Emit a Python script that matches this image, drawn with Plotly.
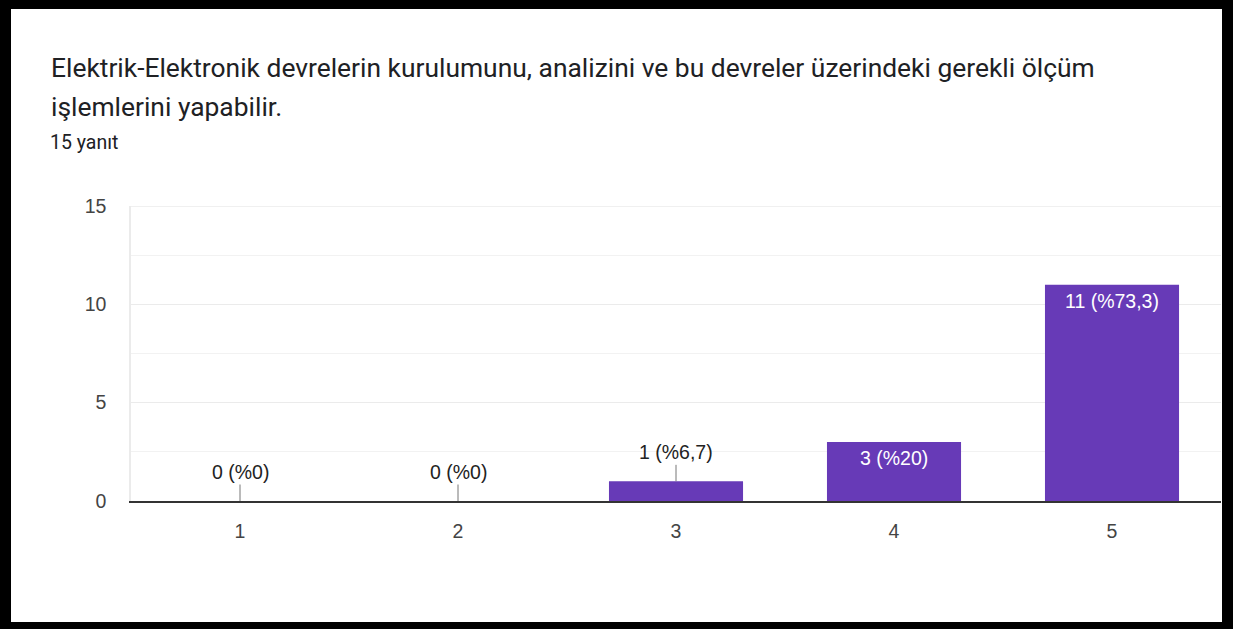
import plotly.graph_objects as go

categories = ["1", "2", "3", "4", "5"]
counts = [0, 0, 1, 3, 11]
labels = ["0 (%0)", "0 (%0)", "1 (%6,7)", "3 (%20)", "11 (%73,3)"]
y_ticks = [0, 5, 10, 15]
title_lines = ["Elektrik-Elektronik devrelerin kurulumunu, analizini ve bu devreler üzerindeki gerekli ölçüm",
               "işlemlerini yapabilir."]
subtitle = "15 yanıt"

W, H = 1233, 629
L, R, T, B = 131, 12, 206, 128
PW, PH = W - L - R, H - T - B

def px_x(p):
    return (p - L) / PW

def px_y(p):
    return (H - B - p) / PH

xpos = [1, 2, 3, 4, 5]
CHART_FONT = "Liberation Sans, Arial"
FS = 19.5

fig = go.Figure()
fig.add_trace(go.Bar(x=xpos, y=counts, width=0.615, marker=dict(color="#673ab7", line=dict(width=0)),
                     hoverinfo="skip"))

annotations = []
for x, c, lab in zip(xpos, counts, labels):
    if c < 2:
        annotations.append(dict(x=x, y=c, xref="x", yref="y", text=lab, showarrow=True,
                                arrowhead=0, arrowwidth=1, arrowcolor="#777", ax=0, ay=-29,
                                font=dict(family=CHART_FONT, size=FS, color="#222")))
    else:
        annotations.append(dict(x=x, y=c, xref="x", yref="y", text=lab, showarrow=False,
                                yanchor="top", yshift=-3,
                                font=dict(family=CHART_FONT, size=FS, color="#ffffff")))

annotations.append(dict(x=px_x(49), y=px_y(68), xref="paper", yref="paper", xanchor="left", yanchor="middle",
                        text=title_lines[0], showarrow=False,
                        font=dict(family="Roboto", size=26.4, color="#202124")))
annotations.append(dict(x=px_x(49), y=px_y(107), xref="paper", yref="paper", xanchor="left", yanchor="middle",
                        text=title_lines[1], showarrow=False,
                        font=dict(family="Roboto", size=26.4, color="#202124")))
annotations.append(dict(x=px_x(48), y=px_y(142), xref="paper", yref="paper", xanchor="left", yanchor="middle",
                        text=subtitle, showarrow=False,
                        font=dict(family="Roboto", size=19.5, color="#202124")))

shapes = []
# top gridline at the axis maximum
shapes.append(dict(type="line", xref="paper", yref="y", x0=0, x1=1, y0=y_ticks[-1], y1=y_ticks[-1],
                   line=dict(color="#ebebeb", width=1.5), layer="below"))

def rect(x0, y0, x1, y1, color="black"):
    shapes.append(dict(type="rect", xref="paper", yref="paper", x0=px_x(x0), x1=px_x(x1),
                       y0=px_y(y1), y1=px_y(y0), fillcolor=color, line=dict(width=0), layer="above"))

rect(0, 0, 11, H)
rect(0, 0, W, 9)
rect(1222, 0, W, H)
rect(0, 622, W, H)

fig.update_layout(
    width=W, height=H,
    margin=dict(l=L, r=R, t=T, b=B, pad=0),
    paper_bgcolor="white", plot_bgcolor="white",
    showlegend=False,
    annotations=annotations,
    shapes=shapes,
    xaxis=dict(range=[0.5, 5.5], tickvals=xpos, ticktext=categories, showgrid=False,
               zeroline=False, showline=True, linecolor="#333", linewidth=1.5, ticks="",
               ticklabelstandoff=12,
               tickfont=dict(family=CHART_FONT, size=FS, color="#444"), fixedrange=True),
    yaxis=dict(range=[0, 15], tickvals=y_ticks, showgrid=True, gridcolor="#ebebeb", gridwidth=1,
               zeroline=False, showline=True, linecolor="#ebebeb", linewidth=1.5,
               ticks="", ticklabelstandoff=19,
               minor=dict(tickvals=[2.5, 7.5, 12.5], showgrid=True, gridcolor="#f2f2f2", gridwidth=1),
               tickfont=dict(family=CHART_FONT, size=FS, color="#444"), fixedrange=True),
    bargap=0.385,
)

fig.write_html("out.html", config={"displayModeBar": False},
               post_script="document.body.style.margin='0';")
